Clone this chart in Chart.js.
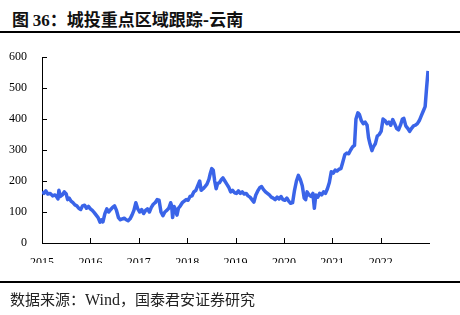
<!DOCTYPE html>
<html>
<head>
<meta charset="utf-8">
<script src="https://cdn.jsdelivr.net/npm/chart.js@4.4.0/dist/chart.umd.min.js"></script>
<style>
  html, body { margin: 0; padding: 0; background: #fff; }
  #wrap { position: relative; width: 460px; height: 315px; overflow: hidden; }
  #chart { position: absolute; left: 0; top: 0; }
  .title { position: absolute; left: 12px; top: 6px; font: bold 17px "Noto Sans CJK SC", sans-serif; color: #111; white-space: nowrap; }
  .title .num { font-family: "Liberation Serif", serif; font-size: 17px; }
  .rule { position: absolute; left: 0; width: 460px; height: 2px; background: #000; }
  .source { position: absolute; left: 10px; top: 288px; font: 15px "Noto Sans CJK SC", sans-serif; color: #222; white-space: nowrap; }
  .source .en { font-family: "Liberation Serif", serif; font-size: 16px; }
</style>
</head>
<body>
<div id="wrap">
  <div class="title">图 <span class="num">36</span>：城投重点区域跟踪-云南</div>
  <div class="rule" style="top:31px"></div>
  <canvas id="chart" width="460" height="315"></canvas>
  <div class="rule" style="top:281px"></div>
  <div class="source">数据来源：<span class="en">Wind</span>，国泰君安证券研究</div>
</div>
<script>
// x positions in decimal years
const xYears = [
  2015.00, 2015.04, 2015.08, 2015.12, 2015.17, 2015.22, 2015.27, 2015.30, 2015.33, 2015.35,
  2015.38, 2015.42, 2015.46, 2015.50, 2015.53, 2015.56, 2015.60, 2015.64, 2015.68, 2015.72,
  2015.76, 2015.80, 2015.84, 2015.88, 2015.92, 2015.96, 2016.00, 2016.04, 2016.08, 2016.12,
  2016.16, 2016.20, 2016.23, 2016.26, 2016.30, 2016.34, 2016.38, 2016.42, 2016.46, 2016.50,
  2016.54, 2016.58, 2016.62, 2016.66, 2016.70, 2016.74, 2016.78, 2016.82, 2016.86, 2016.90,
  2016.94, 2016.98, 2017.02, 2017.06, 2017.10, 2017.14, 2017.18, 2017.22, 2017.26, 2017.30,
  2017.34, 2017.38, 2017.42, 2017.46, 2017.50, 2017.54, 2017.58, 2017.62, 2017.66, 2017.68,
  2017.70, 2017.73, 2017.76, 2017.79, 2017.82, 2017.86, 2017.90, 2017.94, 2017.98, 2018.02,
  2018.06, 2018.10, 2018.14, 2018.18, 2018.22, 2018.26, 2018.29, 2018.33, 2018.37, 2018.41,
  2018.45, 2018.48, 2018.51, 2018.54, 2018.57, 2018.60, 2018.63, 2018.67, 2018.71, 2018.74,
  2018.78, 2018.82, 2018.86, 2018.90, 2018.94, 2018.98, 2019.02, 2019.06, 2019.10, 2019.14,
  2019.18, 2019.22, 2019.26, 2019.30, 2019.34, 2019.38, 2019.42, 2019.46, 2019.50, 2019.54,
  2019.58, 2019.62, 2019.66, 2019.70, 2019.74, 2019.78, 2019.82, 2019.86, 2019.90, 2019.94,
  2019.98, 2020.02, 2020.06, 2020.10, 2020.14, 2020.18, 2020.22, 2020.26, 2020.30, 2020.34,
  2020.38, 2020.42, 2020.45, 2020.48, 2020.52, 2020.56, 2020.60, 2020.63, 2020.66, 2020.70,
  2020.74, 2020.78, 2020.82, 2020.86, 2020.90, 2020.94, 2020.98, 2021.02, 2021.06, 2021.10,
  2021.14, 2021.18, 2021.22, 2021.26, 2021.30, 2021.34, 2021.38, 2021.42, 2021.46, 2021.49,
  2021.53, 2021.56, 2021.60, 2021.64, 2021.68, 2021.72, 2021.75, 2021.78, 2021.82, 2021.85,
  2021.89, 2021.93, 2021.97, 2022.01, 2022.05, 2022.09, 2022.13, 2022.17, 2022.21, 2022.25,
  2022.29, 2022.33, 2022.37, 2022.41, 2022.45, 2022.48, 2022.52, 2022.56, 2022.60, 2022.64,
  2022.68, 2022.72, 2022.76, 2022.80, 2022.84, 2022.88, 2022.92, 2022.95, 2022.98
];

// 云南 series values
const yunnan = [
  165, 160, 168, 158, 160, 152, 155, 150, 142, 170,
  150, 155, 165, 158, 140, 145, 135, 130, 123, 120,
  112, 108, 120, 122, 112, 118, 110, 105, 98, 90,
  82, 67, 75, 68, 95, 110, 100, 108, 115, 120,
  105, 82, 75, 78, 80, 75, 72, 78, 90, 105,
  130, 110, 100, 108, 95, 105, 110, 100, 115, 125,
  130, 140, 138, 100, 88, 100, 105, 112, 130, 120,
  82, 118, 108, 90, 112, 120, 130, 135, 140, 138,
  150, 152, 165, 170, 185, 200, 170, 175, 182, 190,
  205, 225, 240, 235, 200, 175, 192, 195, 205, 210,
  200, 190, 180, 165, 170, 162, 160, 168, 160, 165,
  158, 160, 152, 148, 140, 132, 155, 168, 178, 182,
  172, 165, 160, 155, 148, 145, 140, 148, 142, 150,
  140, 138, 145, 135, 128, 130, 170, 200, 218, 205,
  185, 145, 140, 165, 155, 150, 160, 112, 155, 148,
  160, 155, 165, 160, 175, 195, 230, 225, 235, 232,
  238, 240, 262, 285, 290, 288, 300, 310, 315, 400,
  420, 415, 395, 385, 390, 380, 340, 320, 298, 310,
  320, 345, 350, 360, 400, 395, 385, 390, 380, 398,
  385, 370, 365, 380, 400, 402, 378, 370, 360, 370,
  378, 380, 385, 395, 410, 425, 440, 500, 555
];

const yearTicks = [2015, 2016, 2017, 2018, 2019, 2020, 2021, 2022];
const valueTicks = [0, 100, 200, 300, 400, 500, 600];

const lineColor = '#3a64e8';

// inward tick marks, drawn through the scales
const inwardTicks = {
  id: 'inwardTicks',
  afterDraw(chart) {
    const ctx = chart.ctx;
    const xs = chart.scales.x;
    const ys = chart.scales.y;
    ctx.save();
    ctx.strokeStyle = '#000';
    ctx.lineWidth = 1;
    ctx.beginPath();
    yearTicks.forEach(t => {
      const px = Math.round(xs.getPixelForValue(t)) + 0.5;
      ctx.moveTo(px, ys.bottom);
      ctx.lineTo(px, ys.bottom - 5);
    });
    valueTicks.forEach(v => {
      const py = Math.round(ys.getPixelForValue(v)) + 0.5;
      ctx.moveTo(xs.left, py);
      ctx.lineTo(xs.left + 5, py);
    });
    ctx.stroke();
    ctx.restore();
  }
};

new Chart(document.getElementById('chart'), {
  type: 'line',
  data: {
    datasets: [{
      label: '云南',
      data: xYears.map((x, i) => ({ x: x, y: yunnan[i] })),
      borderColor: lineColor,
      borderWidth: 3.5,
      borderJoinStyle: 'round',
      pointRadius: 0,
      tension: 0,
      fill: false
    }]
  },
  options: {
    responsive: false,
    animation: false,
    layout: { padding: { left: 0, right: 31, top: 57, bottom: 52 } },
    plugins: { legend: { display: false }, tooltip: { enabled: false } },
    scales: {
      x: {
        type: 'linear',
        min: 2015,
        max: 2023,
        afterBuildTicks: scale => { scale.ticks = yearTicks.map(v => ({ value: v })); },
        afterFit: scale => { scale.height = 20; },
        grid: { display: false },
        border: { display: true, color: '#000', width: 1 },
        ticks: {
          color: '#000',
          font: { family: 'Liberation Serif', size: 12 },
          padding: 5,
          maxRotation: 0,
          callback: v => String(v)
        }
      },
      y: {
        min: 0,
        max: 600,
        afterBuildTicks: scale => { scale.ticks = valueTicks.map(v => ({ value: v })); },
        afterFit: scale => { scale.width = 42; },
        grid: { display: false },
        border: { display: true, color: '#000', width: 1 },
        ticks: {
          color: '#000',
          font: { family: 'Liberation Serif', size: 12 },
          padding: 7
        }
      }
    }
  },
  plugins: [inwardTicks]
});
</script>
</body>
</html>
